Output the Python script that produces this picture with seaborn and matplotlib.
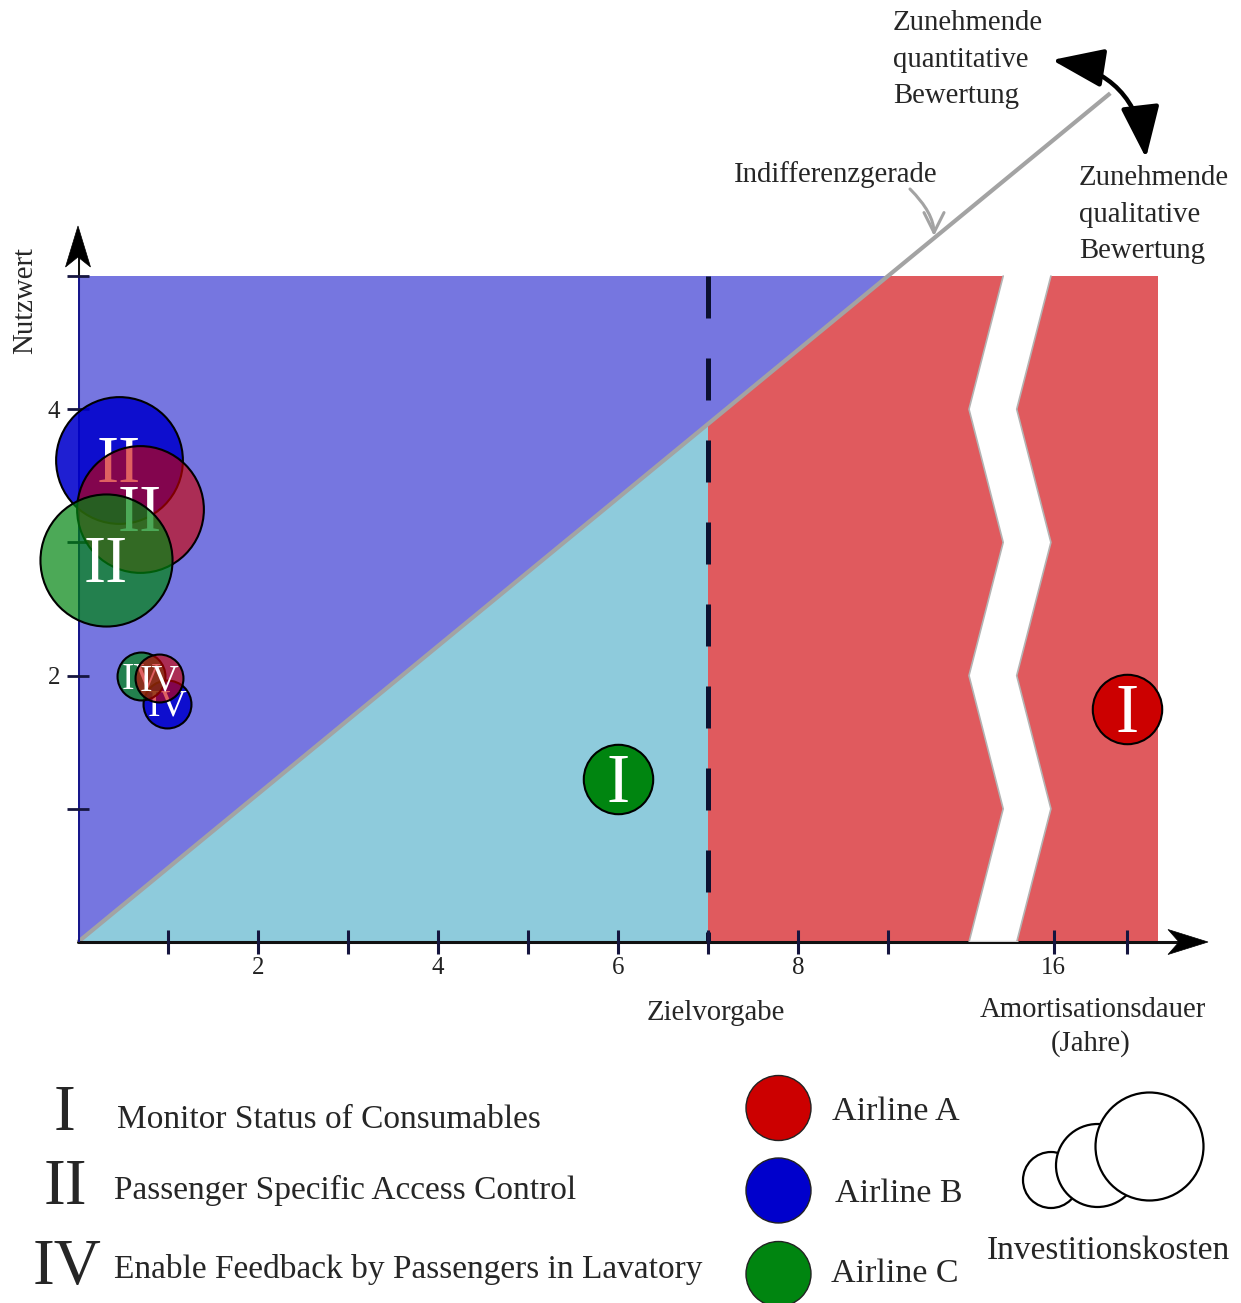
import numpy as np
import pandas as pd
import matplotlib
matplotlib.use("Agg")
import matplotlib.pyplot as plt
from matplotlib.colors import to_rgba
from matplotlib.patches import Polygon, Circle, FancyArrowPatch
import seaborn as sns

# ---------------------------------------------------------------- data
# bubbles, listed in drawing order (later rows lie on top)
airline = ["Airline B", "Airline B", "Airline C", "Airline A", "Airline A",
           "Airline C", "Airline C", "Airline A"]
projekt = ["II", "IV", "IV", "II", "IV", "II", "I", "I"]
amortisation = [0.45, 0.99, 0.70, 0.69, 0.90, 0.31, 6.0, 18.0]   # Jahre
nutzwert = [3.62, 1.79, 2.00, 3.25, 1.98, 2.87, 1.22, 1.75]
kosten = [7.0, 1.0, 1.0, 7.0, 1.0, 7.6, 2.1, 2.1]               # relative Investitionskosten

airlines = ["Airline A", "Airline B", "Airline C"]
airline_colors = ["#cc0000", "#0000cc", "#008510"]
projects = ["I", "II", "IV"]
project_names = ["Monitor Status of Consumables",
                 "Passenger Specific Access Control",
                 "Enable Feedback by Passengers in Lavatory"]

x_tick_years = [1, 2, 3, 4, 5, 6, 7, 8, 9, 16, 18]
x_tick_labels = ["", "2", "", "4", "", "6", "", "8", "", "16", ""]
y_ticks = [1, 2, 3, 4, 5]
y_tick_labels = ["", "2", "", "4", ""]

zielvorgabe = 7          # target payback period
nutzwert_max = 5
indiff_x_at_max = 9      # indifference line reaches the top of the scale here

# ------------------------------------------------------------- helpers
AXIS_16 = 10.84          # axis position of the 16-year tick behind the break
STEP_AFTER_BREAK = 0.41  # axis units per year behind the break


def axis_x(years):
    """Broken time axis: linear up to 9 years, compressed after the break."""
    years = np.asarray(years, dtype=float)
    return np.where(years <= 12, years, AXIS_16 + (years - 16) * STEP_AFTER_BREAK)


sns.set_style("white")
plt.rcParams["font.family"] = ["Liberation Serif", "DejaVu Serif"]

W, H = 1241, 1303
fig = plt.figure(figsize=(W / 100, H / 100), dpi=100)

# main axes: x 0..12.7 (90 px per unit), y 0..7 (133.2 px per unit)
X0, Y0, UX, UY = 78, 942, 90.0, 133.2
XMAX, YMAX = 12.7, 7.0
ax = fig.add_axes([X0 / W, (H - Y0) / H, XMAX * UX / W, YMAX * UY / H])
ax.set_xlim(0, XMAX)
ax.set_ylim(0, YMAX)
for s in ax.spines.values():
    s.set_visible(False)
ax.patch.set_alpha(0)
ax.set_axisbelow(False)

slope = nutzwert_max / indiff_x_at_max
z_top = zielvorgabe * slope
right_edge = 12.0

# regions of the decision matrix
ax.add_patch(Polygon([(0, 0), (0, nutzwert_max), (indiff_x_at_max, nutzwert_max)],
                     closed=True, fc="#7676e0", ec="none", zorder=0.5))
ax.add_patch(Polygon([(0, 0), (zielvorgabe, 0), (zielvorgabe, z_top)],
                     closed=True, fc="#8ecbdc", ec="none", zorder=0.5))
ax.add_patch(Polygon([(zielvorgabe, 0), (zielvorgabe, z_top),
                      (indiff_x_at_max, nutzwert_max), (right_edge, nutzwert_max),
                      (right_edge, 0)],
                     closed=True, fc="#e05a5e", ec="none", zorder=0.5))

# axis break (zig-zag band)
zz_y = np.array([5, 4, 3, 2, 1, 0], dtype=float)
zz_left = np.array([10.28, 9.90, 10.28, 9.90, 10.28, 9.90])
zz_right = zz_left + 0.53
band = list(zip(zz_left, zz_y)) + list(zip(zz_right[::-1], zz_y[::-1]))
ax.add_patch(Polygon(band, closed=True, fc="white", ec="none", zorder=1.0))
ax.plot(zz_left, zz_y, color="#b4b4b4", lw=1.2, zorder=1.05)
ax.plot(zz_right, zz_y, color="#b4b4b4", lw=1.2, zorder=1.05)

# indifference line
line_end = 11.47
ax.plot([0, line_end], [0, line_end * slope], color="#a3a3a3", lw=3,
        solid_capstyle="butt", zorder=1.2, clip_on=False)

# target line
ax.plot([zielvorgabe, zielvorgabe], [nutzwert_max, 0], color="#0b1030", lw=3.6,
        dashes=(8.4, 8.0), zorder=2.2)

# axis lines
ax.plot([0, 12.3], [0, 0], color="#111111", lw=2.2, zorder=2.0, clip_on=False)
ax.plot([9.9, 10.43], [0, 0], color="#cfcfcf", lw=2.2, zorder=2.05)
ax.plot([0, 0], [0, nutzwert_max], color="#16168a", lw=2.2, zorder=2.0)
ax.plot([0, 0], [nutzwert_max, 5.15], color="#111111", lw=2.2, zorder=2.0)

# ticks
ax.set_xticks(axis_x(x_tick_years))
ax.set_xticklabels(x_tick_labels)
ax.set_yticks(y_ticks)
ax.set_yticklabels(y_tick_labels)
ax.tick_params(axis="x", bottom=True, direction="inout", length=17, width=2.2,
               color="#15153f", pad=2, labelsize=18, labelcolor="#222222")
ax.tick_params(axis="y", left=True, direction="inout", length=16, width=2.0,
               color="#15153f", pad=5, labelsize=18, labelcolor="#222222")
ax.set_xlabel("")
ax.set_ylabel("")

# bubbles
df = pd.DataFrame(dict(airline=airline, projekt=projekt, jahre=amortisation,
                       nutzwert=nutzwert, kosten=kosten))
df["pos"] = axis_x(df["jahre"])
color_map = dict(zip(airlines, airline_colors))
alpha_map = {"Airline A": 0.62, "Airline B": 0.88, "Airline C": 0.70}
label_size = {"I": 50, "II": 48, "IV": 27}
S_PER_UNIT = 1190.0
K_MAX = 8.0

for i, row in enumerate(df.itertuples()):
    z = 4 + i
    n_before = len(ax.collections)
    sns.scatterplot(x=[row.pos], y=[row.nutzwert], size=[row.kosten],
                    sizes=(0, S_PER_UNIT * K_MAX), size_norm=(0, K_MAX),
                    color=color_map[row.airline], edgecolor="black", linewidth=1.5,
                    legend=False, ax=ax, zorder=z, clip_on=False)
    coll = ax.collections[n_before]
    a = 1.0 if row.projekt == "I" else alpha_map[row.airline]
    coll.set_facecolor(to_rgba(color_map[row.airline], a))
    coll.set_edgecolor("black")
    fs = label_size[row.projekt]
    ax.annotate(row.projekt, (row.pos, row.nutzwert), xytext=(0, -0.331 * fs),
                textcoords="offset points", ha="center", va="baseline",
                color="white", fontsize=fs, zorder=z + 0.5, annotation_clip=False)

ax.set_xlim(0, XMAX)
ax.set_ylim(0, YMAX)

# ------------------------------------------------ overlay in pixel units
ov = fig.add_axes([0, 0, 1, 1])
ov.set_xlim(0, W)
ov.set_ylim(H, 0)
ov.axis("off")
ov.set_zorder(5)
ov.patch.set_alpha(0)

# arrow heads of the axes
ov.add_patch(Polygon([(1208, 942), (1168, 929.5), (1179, 942), (1168, 954.5)],
                     closed=True, fc="black", ec="black", lw=0.5))
ov.add_patch(Polygon([(78, 226), (65.5, 267), (78, 257), (90.5, 267)],
                     closed=True, fc="black", ec="black", lw=0.5))

TXT = 20.7
ov.text(25, 300, "Nutzwert", rotation=90, ha="center", va="center", fontsize=TXT)
ov.text(716, 1020, "Zielvorgabe", ha="center", va="baseline", fontsize=TXT)
ov.text(1093, 1017, "Amortisationsdauer", ha="center", va="baseline", fontsize=TXT)
ov.text(1091, 1051, "(Jahre)", ha="center", va="baseline", fontsize=TXT)
ov.text(836, 182, "Indifferenzgerade", ha="center", va="baseline", fontsize=TXT)
for txt, yb in zip(["Zunehmende", "quantitative", "Bewertung"], [30, 67, 103]):
    ov.text(893, yb, txt, ha="left", va="baseline", fontsize=TXT)
for txt, yb in zip(["Zunehmende", "qualitative", "Bewertung"], [185, 222, 258]):
    ov.text(1079, yb, txt, ha="left", va="baseline", fontsize=TXT)

ov.add_patch(FancyArrowPatch((910, 189), (934, 236),
                             connectionstyle="angle3,angleA=-45,angleB=90",
                             arrowstyle="->,head_length=0.8,head_width=0.4",
                             mutation_scale=18, color="#a3a3a3", lw=2.2,
                             shrinkA=0, shrinkB=0))
ov.add_patch(FancyArrowPatch((1052, 60), (1146, 158), connectionstyle="arc3,rad=-0.38",
                             arrowstyle="<|-|>,head_length=1.6,head_width=0.6",
                             mutation_scale=20, color="black", lw=3.2,
                             shrinkA=0, shrinkB=0))

# legend: projects
for proj, xr, yb in zip(projects, [65, 65, 67], [1130, 1204, 1284]):
    ov.text(xr, yb, proj, ha="center", va="baseline", fontsize=47)
for name, xt, yb in zip(project_names, [117, 114, 114], [1128, 1199, 1278]):
    ov.text(xt, yb, name, ha="left", va="baseline", fontsize=24)

# legend: airlines
for name, col, cy, xt, yb in zip(airlines, airline_colors, [1108, 1190.5, 1274],
                                 [832, 835, 831], [1120, 1202, 1282]):
    ov.add_patch(Circle((778.5, cy), 32.5, fc=col, ec="#222222", lw=1.0, clip_on=False))
    ov.text(xt, yb, name, ha="left", va="baseline", fontsize=24.5)

# legend: investment cost
for cx, cy, r in [(1051, 1180, 28), (1097.5, 1165.5, 41.5), (1149.5, 1146.5, 54)]:
    ov.add_patch(Circle((cx, cy), r, fc="white", ec="black", lw=1.6))
ov.text(1108, 1259, "Investitionskosten", ha="center", va="baseline", fontsize=24)

fig.savefig("out.png", dpi=100)
